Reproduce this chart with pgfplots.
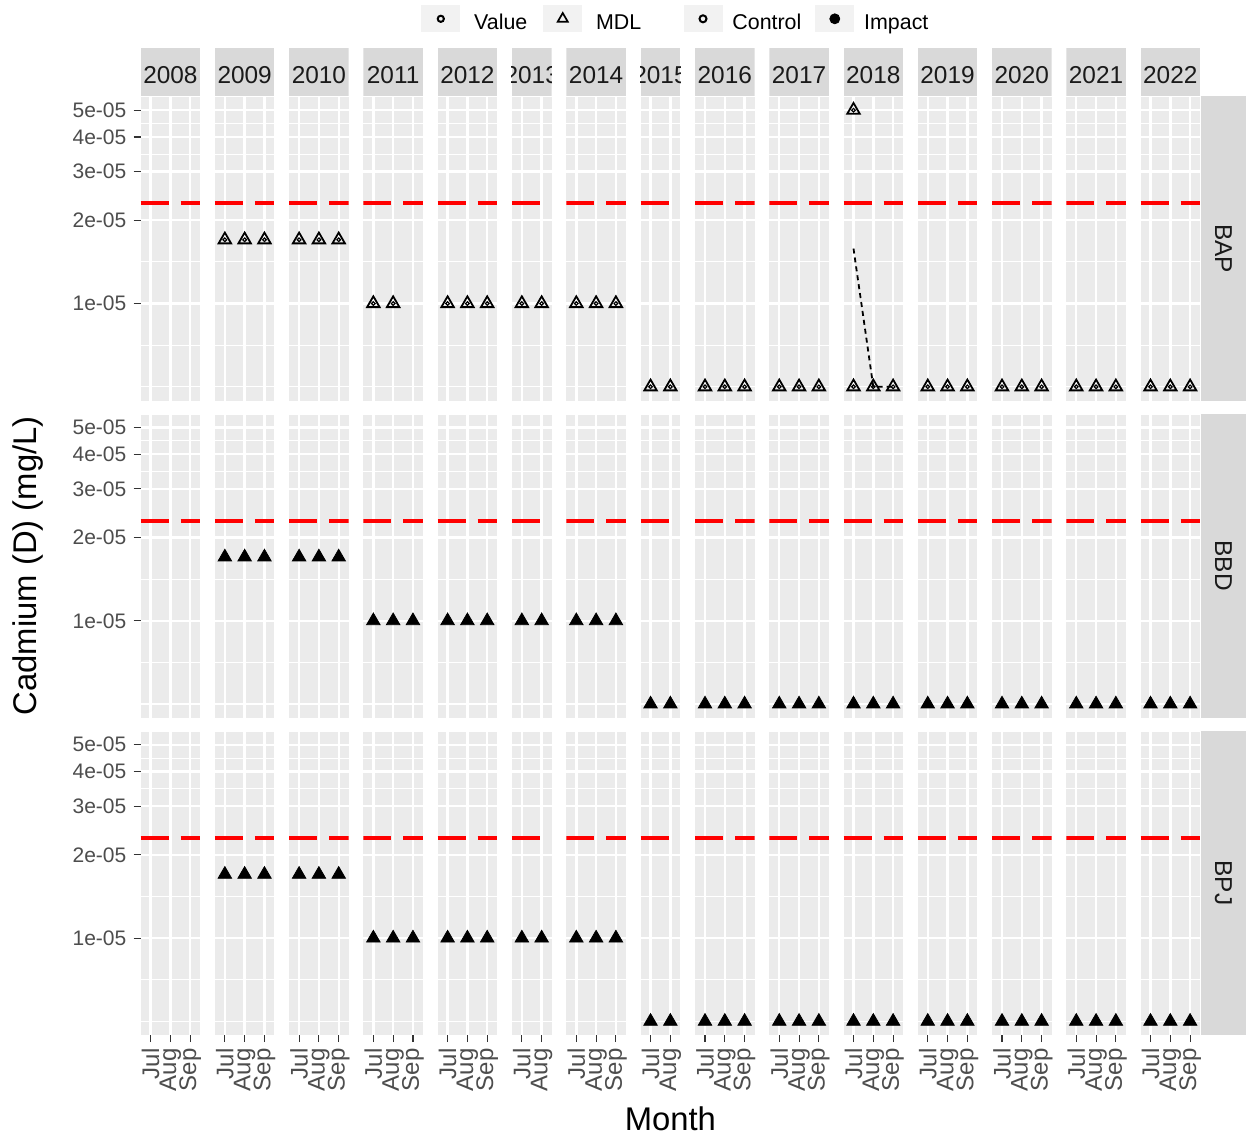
\documentclass[border=0pt]{standalone}
\usepackage{pgfplots}
\pgfplotsset{compat=1.18}
\usepackage{fontspec}
\setmainfont{Liberation Sans}
\definecolor{panelbg}{HTML}{EBEBEB}
\definecolor{stripbg}{HTML}{D9D9D9}
\definecolor{keybg}{HTML}{F2F2F2}
\definecolor{tickcol}{HTML}{333333}
\definecolor{labcol}{HTML}{4D4D4D}
\definecolor{striptext}{HTML}{1A1A1A}

\pgfplotsset{
  myfacet/.style={
    scale only axis, height=152.15pt, anchor=north west,
    ymin=4.456e-6, ymax=5.61e-5, xmin=-0.5,
    axis line style={draw=none},
    axis background/.style={fill=panelbg},
    ytick={1e-5,2e-5,3e-5,4e-5,5e-5},
    minor ytick={5e-6,7.0711e-6,1.4142e-5,3.4641e-5,4.4721e-5,5.5902e-5},
    grid=both,
    major grid style={draw=white, line width=1.2pt},
    minor grid style={draw=white, line width=0.6pt},
    xticklabels={}, yticklabels={},
    tick align=outside,
    major tick length=3.5pt, minor tick length=0pt,
    xtick style={draw=none}, ytick style={draw=none},
    xtick pos=left, ytick pos=left,
  },
  cat3/.style={xtick={0,1,2}, xmax=2.5, width=29.7pt},
  cat2/.style={xtick={0,1}, xmax=1.5, width=19.8pt},
  yleft/.style={
    yticklabels={\mbox{1e-05},\mbox{2e-05},\mbox{3e-05},\mbox{4e-05},\mbox{5e-05}},
    ytick style={draw=tickcol, line width=0.55pt},
    yticklabel style={font=\fontsize{10.5}{12}\selectfont, text=labcol, anchor=east, inner sep=0pt, xshift=-3.5pt},
  },
  xbot/.style={
    xtick style={draw=tickcol, line width=0.55pt},
    xticklabel style={font=\fontsize{12}{14}\selectfont, text=labcol, yshift=-2.9pt, rotate=90, anchor=east, inner sep=0pt},
  },
  xb3/.style={xbot, xticklabels={\mbox{Jul},\mbox{Aug},\mbox{Sep}}},
  xb2/.style={xbot, xticklabels={\mbox{Jul},\mbox{Aug}}},
  refl/.style={color=red, line width=2pt, dash pattern=on 14pt off 6pt},
  ctrlm/.style={black, only marks, mark=triangle, mark size=3.6pt, mark options={line width=0.9pt, solid}},
  ctrli/.style={black, only marks, mark=o, mark size=0.9pt, mark options={line width=0.6pt, solid}},
  impm/.style={black, only marks, mark=triangle*, mark size=3.9pt, mark options={line width=0.4pt, solid, fill=black}},
}

\newcommand{\panel}[4]{%
  \begin{semilogyaxis}[myfacet, at={(#1*0.5pt,-#2*0.5pt)}, #3]
  #4
  \end{semilogyaxis}}
\newcommand{\refthree}{\addplot[refl] coordinates {(-0.5,2.3e-5) (2.5,2.3e-5)};}
\newcommand{\reftwo}{\addplot[refl] coordinates {(-0.5,2.3e-5) (1.5,2.3e-5)};}
\newcommand{\ctrl}[1]{\addplot[ctrlm] coordinates {#1}; \addplot[ctrli] coordinates {#1};}
\newcommand{\imp}[1]{\addplot[impm] coordinates {#1};}

\newcommand{\strip}[3]{%
  \begin{scope}
    \clip (#1,48.3) rectangle (#2,96.3);
    \fill[stripbg] (#1,48.3) rectangle (#2,96.3);
    \node[text=striptext, font=\fontsize{12.2}{14}\selectfont, inner sep=0pt] at ({(#1+#2)/2},75.2) {#3};
  \end{scope}}
\newcommand{\rstrip}[2]{%
  \fill[stripbg] (1201,#1) rectangle (1246,{#1+304.3});
  \node[text=striptext, font=\fontsize{12.2}{14}\selectfont, rotate=-90, inner sep=0pt] at (1223.5,{#1+152.15}) {#2};}

\begin{document}
\begin{tikzpicture}
\useasboundingbox (0pt,0pt) rectangle (624pt,-568.5pt);

% ---------------- Row 1: BAP (Control) ----------------
\panel{140.7}{96.3}{cat3,yleft}{\refthree}
\panel{214.95}{96.3}{cat3}{\refthree \ctrl{(0,1.7e-5) (1,1.7e-5) (2,1.7e-5)}}
\panel{289.2}{96.3}{cat3}{\refthree \ctrl{(0,1.7e-5) (1,1.7e-5) (2,1.7e-5)}}
\panel{363.45}{96.3}{cat3}{\refthree \ctrl{(0,1e-5) (1,1e-5)}}
\panel{437.7}{96.3}{cat3}{\refthree \ctrl{(0,1e-5) (1,1e-5) (2,1e-5)}}
\panel{511.95}{96.3}{cat2}{\reftwo \ctrl{(0,1e-5) (1,1e-5)}}
\panel{566.4}{96.3}{cat3}{\refthree \ctrl{(0,1e-5) (1,1e-5) (2,1e-5)}}
\panel{640.65}{96.3}{cat2}{\reftwo \ctrl{(0,5e-6) (1,5e-6)}}
\panel{695.1}{96.3}{cat3}{\refthree \ctrl{(0,5e-6) (1,5e-6) (2,5e-6)}}
\panel{769.35}{96.3}{cat3}{\refthree \ctrl{(0,5e-6) (1,5e-6) (2,5e-6)}}
\panel{843.6}{96.3}{cat3}{\refthree
  \addplot[black, line width=0.9pt, dash pattern=on 2.5pt off 2pt] coordinates {(0,1.58e-5) (1,5e-6) (2,5e-6)};
  \ctrl{(0,5e-5) (0,5e-6) (1,5e-6) (2,5e-6)}}
\panel{917.85}{96.3}{cat3}{\refthree \ctrl{(0,5e-6) (1,5e-6) (2,5e-6)}}
\panel{992.1}{96.3}{cat3}{\refthree \ctrl{(0,5e-6) (1,5e-6) (2,5e-6)}}
\panel{1066.35}{96.3}{cat3}{\refthree \ctrl{(0,5e-6) (1,5e-6) (2,5e-6)}}
\panel{1140.6}{96.3}{cat3}{\refthree \ctrl{(0,5e-6) (1,5e-6) (2,5e-6)}}

% ---------------- Row 2: BBD (Impact) ----------------
\panel{140.7}{413.6}{cat3,yleft}{\refthree}
\panel{214.95}{413.6}{cat3}{\refthree \imp{(0,1.7e-5) (1,1.7e-5) (2,1.7e-5)}}
\panel{289.2}{413.6}{cat3}{\refthree \imp{(0,1.7e-5) (1,1.7e-5) (2,1.7e-5)}}
\panel{363.45}{413.6}{cat3}{\refthree \imp{(0,1e-5) (1,1e-5) (2,1e-5)}}
\panel{437.7}{413.6}{cat3}{\refthree \imp{(0,1e-5) (1,1e-5) (2,1e-5)}}
\panel{511.95}{413.6}{cat2}{\reftwo \imp{(0,1e-5) (1,1e-5)}}
\panel{566.4}{413.6}{cat3}{\refthree \imp{(0,1e-5) (1,1e-5) (2,1e-5)}}
\panel{640.65}{413.6}{cat2}{\reftwo \imp{(0,5e-6) (1,5e-6)}}
\panel{695.1}{413.6}{cat3}{\refthree \imp{(0,5e-6) (1,5e-6) (2,5e-6)}}
\panel{769.35}{413.6}{cat3}{\refthree \imp{(0,5e-6) (1,5e-6) (2,5e-6)}}
\panel{843.6}{413.6}{cat3}{\refthree \imp{(0,5e-6) (1,5e-6) (2,5e-6)}}
\panel{917.85}{413.6}{cat3}{\refthree \imp{(0,5e-6) (1,5e-6) (2,5e-6)}}
\panel{992.1}{413.6}{cat3}{\refthree \imp{(0,5e-6) (1,5e-6) (2,5e-6)}}
\panel{1066.35}{413.6}{cat3}{\refthree \imp{(0,5e-6) (1,5e-6) (2,5e-6)}}
\panel{1140.6}{413.6}{cat3}{\refthree \imp{(0,5e-6) (1,5e-6) (2,5e-6)}}

% ---------------- Row 3: BPJ (Impact) ----------------
\panel{140.7}{730.9}{cat3,yleft,xb3}{\refthree}
\panel{214.95}{730.9}{cat3,xb3}{\refthree \imp{(0,1.7e-5) (1,1.7e-5) (2,1.7e-5)}}
\panel{289.2}{730.9}{cat3,xb3}{\refthree \imp{(0,1.7e-5) (1,1.7e-5) (2,1.7e-5)}}
\panel{363.45}{730.9}{cat3,xb3}{\refthree \imp{(0,1e-5) (1,1e-5) (2,1e-5)}}
\panel{437.7}{730.9}{cat3,xb3}{\refthree \imp{(0,1e-5) (1,1e-5) (2,1e-5)}}
\panel{511.95}{730.9}{cat2,xb2}{\reftwo \imp{(0,1e-5) (1,1e-5)}}
\panel{566.4}{730.9}{cat3,xb3}{\refthree \imp{(0,1e-5) (1,1e-5) (2,1e-5)}}
\panel{640.65}{730.9}{cat2,xb2}{\reftwo \imp{(0,5e-6) (1,5e-6)}}
\panel{695.1}{730.9}{cat3,xb3}{\refthree \imp{(0,5e-6) (1,5e-6) (2,5e-6)}}
\panel{769.35}{730.9}{cat3,xb3}{\refthree \imp{(0,5e-6) (1,5e-6) (2,5e-6)}}
\panel{843.6}{730.9}{cat3,xb3}{\refthree \imp{(0,5e-6) (1,5e-6) (2,5e-6)}}
\panel{917.85}{730.9}{cat3,xb3}{\refthree \imp{(0,5e-6) (1,5e-6) (2,5e-6)}}
\panel{992.1}{730.9}{cat3,xb3}{\refthree \imp{(0,5e-6) (1,5e-6) (2,5e-6)}}
\panel{1066.35}{730.9}{cat3,xb3}{\refthree \imp{(0,5e-6) (1,5e-6) (2,5e-6)}}
\panel{1140.6}{730.9}{cat3,xb3}{\refthree \imp{(0,5e-6) (1,5e-6) (2,5e-6)}}

% ---------------- Legends ----------------
\begin{axis}[hide axis, scale only axis, width=10pt, height=10pt,
  xmin=0, xmax=1, ymin=0, ymax=1, at={(210.5pt,-2.5pt)}, anchor=north west,
  legend image code/.code={\fill[keybg] (0pt,-0.3pt) rectangle (19pt,12.5pt);
     \draw[#1] plot[only marks] coordinates {(9.5pt,6pt)};},
  legend columns=-1,
  legend style={at={(0,1)}, anchor=north west, draw=none, fill=none, inner sep=0pt,
    font=\fontsize{10.7}{12}\selectfont, nodes={inner sep=0pt, yshift=3.6pt},
    /tikz/every odd column/.append style={column sep=7pt},
    /tikz/every even column/.append style={column sep=8pt}}]
\addlegendimage{black, mark=o, mark size=1.55pt, mark options={line width=1pt}}
\addlegendentry{Value}
\addlegendimage{black, mark=triangle, mark size=2.9pt, mark options={line width=0.85pt}}
\addlegendentry{MDL}
\end{axis}
\begin{axis}[hide axis, scale only axis, width=10pt, height=10pt,
  xmin=0, xmax=1, ymin=0, ymax=1, at={(341.6pt,-2.5pt)}, anchor=north west,
  legend image code/.code={\fill[keybg] (0pt,-0.3pt) rectangle (19pt,12.5pt);
     \draw[#1] plot[only marks] coordinates {(9.5pt,6pt)};},
  legend columns=-1,
  legend style={at={(0,1)}, anchor=north west, draw=none, fill=none, inner sep=0pt,
    font=\fontsize{10.7}{12}\selectfont, nodes={inner sep=0pt, yshift=3.6pt},
    /tikz/every odd column/.append style={column sep=5pt},
    /tikz/every even column/.append style={column sep=7pt}}]
\addlegendimage{black, mark=o, mark size=1.75pt, mark options={line width=1pt}}
\addlegendentry{Control}
\addlegendimage{black, mark=*, mark size=2.5pt}
\addlegendentry{Impact}
\end{axis}

% ---------------- Strips and titles ----------------
\begin{scope}[x=0.5pt, y=-0.5pt]
\strip{140.7}{200.1}{2008}
\strip{214.95}{274.35}{2009}
\strip{289.2}{348.6}{2010}
\strip{363.45}{422.85}{2011}
\strip{437.7}{497.1}{2012}
\strip{511.95}{551.55}{2013}
\strip{566.4}{625.8}{2014}
\strip{640.65}{680.25}{2015}
\strip{695.1}{754.5}{2016}
\strip{769.35}{828.75}{2017}
\strip{843.6}{903.0}{2018}
\strip{917.85}{977.25}{2019}
\strip{992.1}{1051.5}{2020}
\strip{1066.35}{1125.75}{2021}
\strip{1140.6}{1200.0}{2022}
\rstrip{96.3}{BAP}
\rstrip{413.6}{BBD}
\rstrip{730.9}{BPJ}
\node[rotate=90, font=\fontsize{16.4}{19}\selectfont, inner sep=0pt] at (28,565.8) {Cadmium (D) (mg/L)};
\node[font=\fontsize{16.4}{19}\selectfont, inner sep=0pt] at (670.4,1118.5) {Month};
\end{scope}
\end{tikzpicture}
\end{document}
